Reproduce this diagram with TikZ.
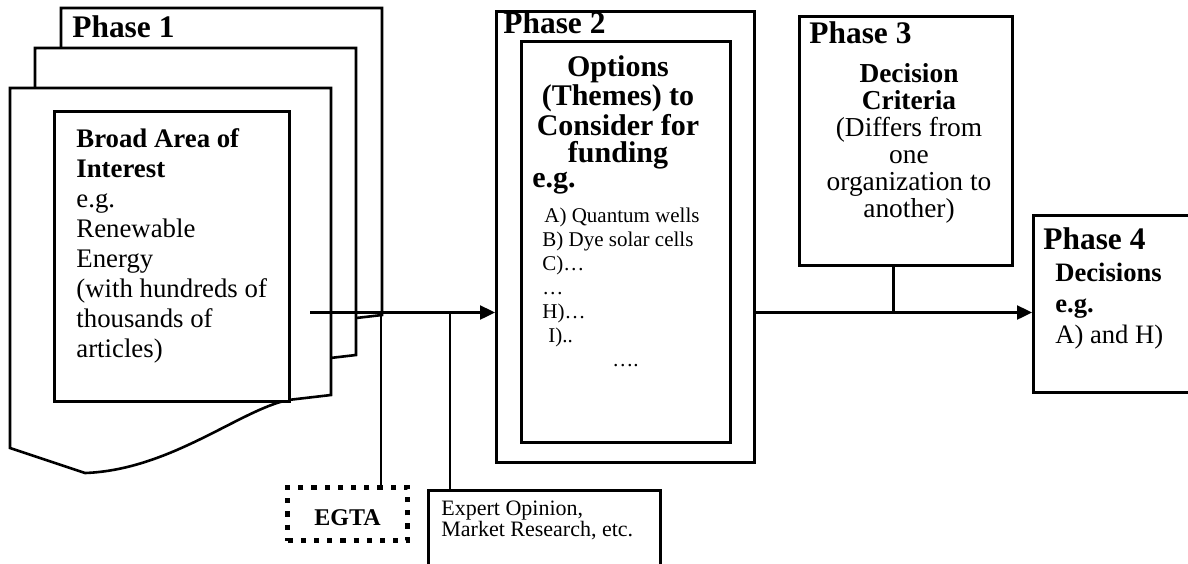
\documentclass[tikz,border=0pt]{standalone}
\usepackage{fontspec}
\setmainfont{Liberation Serif}
\usetikzlibrary{arrows.meta}

\begin{document}
\begin{tikzpicture}[
    x=0.5pt, y=-0.5pt,
    box/.style={draw, line width=1.3pt, fill=white, inner sep=0pt, anchor=north west},
    sheet/.style={draw, line width=1.3pt, fill=white},
    dotbox/.style={box, line width=2.6pt, dash pattern=on 2.6pt off 4pt},
    phase/.style={font=\fontsize{15.7}{18}\selectfont\bfseries, inner sep=0pt, anchor=base west},
    txt/.style={inner sep=0pt},
    arrow/.style={-{Triangle[length=7.5pt,width=7pt]}, line width=1.2pt},
    link/.style={line width=1.2pt}
]
\useasboundingbox (0,0) rectangle (1188,563);
\clip (0,0) rectangle (1188,563);

% phase 1: stack of documents
\foreach \dx/\dy in {51/-80, 25/-40, 0/0}
  \draw[sheet, shift={(\dx,\dy)}] (10,88) -- (331,88) -- (331,395) -- (288,400)
      .. controls (240,410) and (170,470) .. (85,473) -- (10,448) -- cycle;
\node[box, minimum width=117.5pt, minimum height=145pt] (area) at (53,110) {};
\node[phase] (ph1) at (72,37) {Phase 1};
\node[txt, anchor=north west, align=left, font=\fontsize{13.4}{15}\selectfont] (areatxt) at (76,128.5)
  {\textbf{Broad Area of}\\\textbf{Interest}\\e.g.\\Renewable\\Energy\\(with hundreds of\\thousands of\\articles)};

% phase 2
\node[box, minimum width=129pt, minimum height=225.5pt] (opt) at (495,10) {};
\node[box, minimum width=104.5pt, minimum height=200.5pt] (optin) at (520,40) {};
\node[phase] (ph2) at (503,33) {Phase 2};
\node[txt, anchor=north, align=center, font=\fontsize{15}{13.5}\selectfont\bfseries] (opttitle) at (618,55.5)
  {Options\\(Themes) to\\Consider for\\funding};
\node[txt, anchor=base west, font=\fontsize{15}{15}\selectfont\bfseries] (opteg) at (532,187) {e.g.};
\node[txt, anchor=north west, align=left, font=\fontsize{10.5}{12}\selectfont] (optlist) at (542,208)
  {\hspace*{1pt}A) Quantum wells\\B) Dye solar cells\\C)…\\…\\H)…\\\hspace*{3pt}I)..\\\hspace*{35pt}….};

% phase 3
\node[box, minimum width=106.5pt, minimum height=124.5pt] (crit) at (798,15) {};
\node[phase] (ph3) at (809,43) {Phase 3};
\node[txt, anchor=north, align=center, font=\fontsize{13.7}{13.5}\selectfont] (crittxt) at (909,63.5)
  {\textbf{Decision}\\\textbf{Criteria}\\(Differs from\\one\\organization to\\another)};

% phase 4
\node[box, minimum width=84pt, minimum height=88.5pt] (dec) at (1032,214) {};
\node[phase] (ph4) at (1043,249) {Phase 4};
\node[txt, anchor=north west, align=left, font=\fontsize{13.3}{15.5}\selectfont] (dectxt) at (1055,262.5)
  {\textbf{Decisions}\\\textbf{e.g.}\\A) and H)};

% inputs below the main line
\node[dotbox, minimum width=60pt, minimum height=26.5pt, text height=11.5pt, text depth=0pt,
      font=\fontsize{12}{14}\selectfont\bfseries] (egta) at (285,485) {EGTA};
\node[box, minimum width=116pt, minimum height=50.5pt] (expert) at (427,489) {};
\node[txt, anchor=north west, align=left, font=\fontsize{11}{10.5}\selectfont] (experttxt) at (441,501)
  {Expert Opinion,\\Market Research, etc.};

% connectors
\coordinate (src) at (310,312.5);
\coordinate (egtaj) at (381,312.5);
\coordinate (expj) at (450,312.5);
\coordinate (out) at (src -| opt.east);
\draw[arrow] (src) -- (src -| opt.west);
\draw[link] (egtaj) -- (egtaj |- egta.north);
\draw[link] (expj) -- (expj |- expert.north);
\draw[arrow] (out) -- (out -| dec.west);
\draw[link] ([xshift=-6.25pt]crit.south) -- ([xshift=-6.25pt]crit.south |- out);
\end{tikzpicture}
\end{document}
